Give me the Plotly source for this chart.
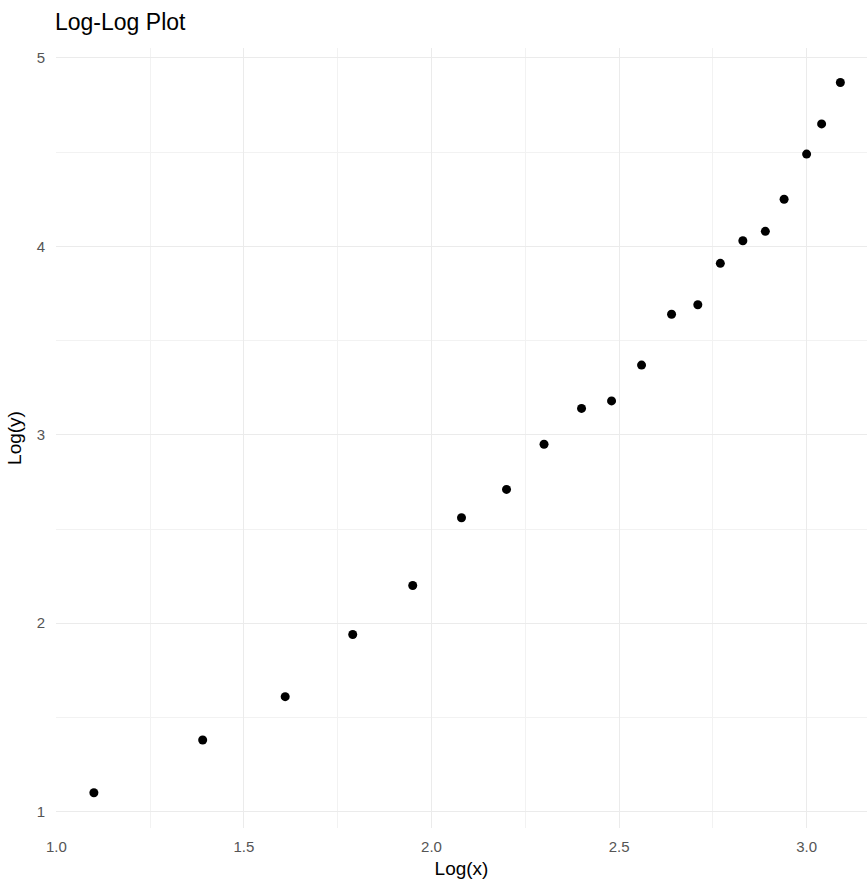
import plotly.graph_objects as go

log_x = [1.10, 1.39, 1.61, 1.79, 1.95, 2.08, 2.20, 2.30, 2.40, 2.48,
         2.56, 2.64, 2.71, 2.77, 2.83, 2.89, 2.94, 3.00, 3.04, 3.09]
log_y = [1.10, 1.38, 1.61, 1.94, 2.20, 2.56, 2.71, 2.95, 3.14, 3.18,
         3.37, 3.64, 3.69, 3.91, 4.03, 4.08, 4.25, 4.49, 4.65, 4.87]
x_ticks = [1.0, 1.5, 2.0, 2.5, 3.0]
x_tick_labels = ["1.0", "1.5", "2.0", "2.5", "3.0"]
y_ticks = [1, 2, 3, 4, 5]
y_tick_labels = ["1", "2", "3", "4", "5"]

fig = go.Figure(go.Scatter(
    x=log_x, y=log_y, mode="markers",
    marker=dict(color="black", size=9),
    showlegend=False,
))

font = "Liberation Sans, Arial, sans-serif"
W, H = 867, 879
fig.update_layout(
    width=W, height=H,
    margin=dict(l=56, r=0, t=48, b=51),
    paper_bgcolor="white", plot_bgcolor="white",
    font=dict(family=font, color="#4d4d4d"),
    title=dict(text="Log-Log Plot", x=55/W, xanchor="left",
               y=1-22/H, yanchor="middle",
               font=dict(size=23, color="black", family=font)),
)
fig.update_xaxes(
    range=[0.999, 3.161], tickvals=x_ticks, ticktext=x_tick_labels,
    showgrid=True, gridcolor="#ebebeb", gridwidth=1.1,
    minor=dict(dtick=0.25, showgrid=True, gridcolor="#f2f2f2", gridwidth=0.6),
    zeroline=False, showline=False, ticks="", automargin=False,
    ticklabelstandoff=8,
    tickfont=dict(size=15, color="#555555"),
    title=dict(text="Log(x)", font=dict(size=19, color="black"), standoff=7),
)
fig.update_yaxes(
    range=[0.913, 5.053], tickvals=y_ticks, ticktext=y_tick_labels,
    showgrid=True, gridcolor="#ebebeb", gridwidth=1.1,
    minor=dict(dtick=0.5, showgrid=True, gridcolor="#f2f2f2", gridwidth=0.6),
    zeroline=False, showline=False, ticks="", automargin=False,
    ticklabelstandoff=10,
    tickfont=dict(size=15, color="#555555"),
    title=dict(text="Log(y)", font=dict(size=19, color="black"), standoff=10),
)

fig.write_html(
    "out.html",
    config={"displayModeBar": False},
    post_script="document.body.style.margin='0';document.body.style.overflow='hidden';",
)
